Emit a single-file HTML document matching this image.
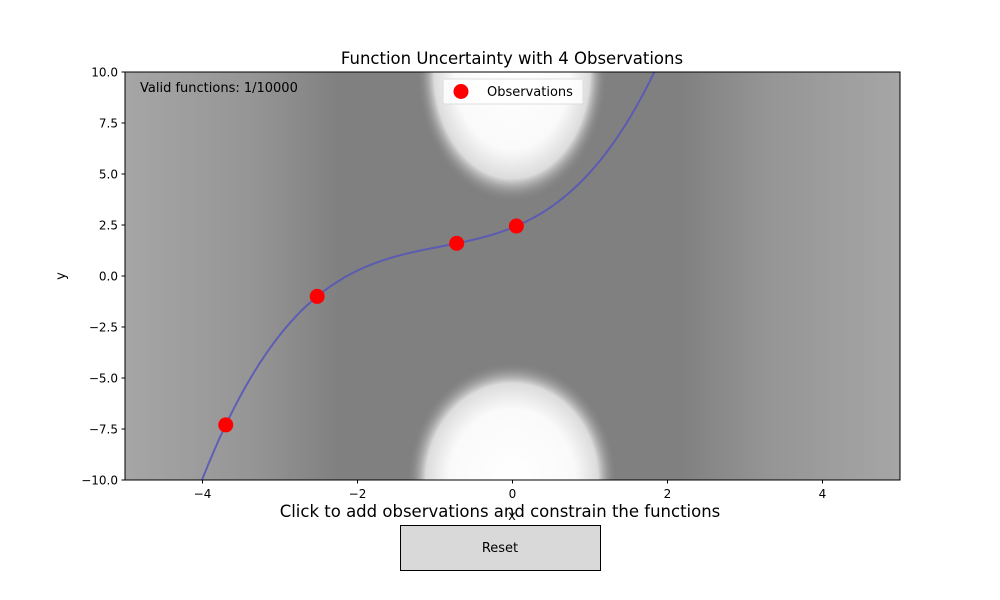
<!DOCTYPE html>
<html><head><meta charset="utf-8"><style>
html,body{margin:0;padding:0;background:#fff;width:1000px;height:600px;overflow:hidden;font-family:"Liberation Sans","DejaVu Sans",sans-serif}
svg{display:block}
svg text{font-family:"DejaVu Sans","Liberation Sans",sans-serif}
</style></head><body>
<svg id="chart" width="1000" height="600" viewBox="0 0 1000 600">
<defs>
<clipPath id="clip"><rect x="125" y="72" width="775" height="408"/></clipPath>
<linearGradient id="lg" x1="125" x2="340" y1="0" y2="0" gradientUnits="userSpaceOnUse"><stop offset="0" stop-color="#a6a6a6"/><stop offset="0.6" stop-color="#959595"/><stop offset="1" stop-color="#808080"/></linearGradient>
<linearGradient id="rg" x1="680" x2="900" y1="0" y2="0" gradientUnits="userSpaceOnUse"><stop offset="0" stop-color="#808080"/><stop offset="0.4" stop-color="#959595"/><stop offset="1" stop-color="#a6a6a6"/></linearGradient>
<radialGradient id="blob"><stop offset="0" stop-color="#fff"/><stop offset="0.6" stop-color="#fafafa"/><stop offset="0.82" stop-color="#dcdcdc"/><stop offset="1" stop-color="#808080" stop-opacity="0"/></radialGradient>
</defs>
<text x="512" y="64" text-anchor="middle" font-size="16.5">Function Uncertainty with 4 Observations</text>
<g clip-path="url(#clip)">
<rect x="125" y="72" width="775" height="408" fill="#808080"/>
<rect x="125" y="72" width="215" height="408" fill="url(#lg)"/>
<rect x="680" y="72" width="220" height="408" fill="url(#rg)"/>
<ellipse cx="512" cy="72" rx="95" ry="130" fill="url(#blob)"/>
<ellipse cx="512" cy="480" rx="105" ry="118" fill="url(#blob)"/>
<g id="marks"></g>
</g>
<rect x="125" y="72" width="775" height="408" fill="none" stroke="#000" stroke-width="1"/>
<g id="axes"></g>
<text x="140" y="92" font-size="13">Valid functions: 1/10000</text>
<g>
<rect x="443" y="79" width="140" height="25" fill="#fff" fill-opacity="0.8" stroke="#ddd" rx="2"/>
<circle cx="461" cy="91.5" r="7.5" fill="red"/>
<text x="487" y="96" font-size="13">Observations</text>
</g>
<text x="512" y="520" font-size="13" text-anchor="middle">x</text>
<text x="65" y="276" font-size="13" text-anchor="middle" transform="rotate(-90 65 276)">y</text>
<text x="500" y="517" font-size="16.5" text-anchor="middle">Click to add observations and constrain the functions</text>
<g>
<rect x="400.5" y="525.5" width="200" height="45" fill="#d9d9d9" stroke="#000"/>
<text x="500" y="552" font-size="13" text-anchor="middle">Reset</text>
</g>
</svg>
<script>
const obsX=[-3.7,-2.52,-0.72,0.05];
const obsY=[-7.3,-1.0,1.6,2.45];
const xTicks=[-4,-2,0,2,4];
const yTicks=[-10,-7.5,-5,-2.5,0,2.5,5,7.5,10];
const yTickLabels=["\u221210.0","\u22127.5","\u22125.0","\u22122.5","0.0","2.5","5.0","7.5","10.0"];
const xTickLabels=["\u22124","\u22122","0","2","4"];
const NS='http://www.w3.org/2000/svg';
const sx=v=>125+(v+5)/10*775;
const sy=v=>480-(v+10)/20*408;
function mk(t,a,p){const e=document.createElementNS(NS,t);for(const k in a)e.setAttribute(k,a[k]);p.appendChild(e);return e;}
function lag(x){let s=0;for(let i=0;i<obsX.length;i++){let t=obsY[i];for(let j=0;j<obsX.length;j++)if(j!==i)t*=(x-obsX[j])/(obsX[i]-obsX[j]);s+=t;}return s;}
const marks=document.getElementById('marks');
let d='';for(let k=0;k<=400;k++){const x=-5+k*10/400;const y=Math.max(-10.5,Math.min(10.5,lag(x)));d+=(k?'L':'M')+sx(x).toFixed(1)+','+sy(y).toFixed(1);}
const ln=mk('path',{d:d,fill:'none',stroke:'#5555bb','stroke-opacity':0.85,'stroke-width':2},marks);


obsX.forEach((x,i)=>{const c=mk('circle',{cx:sx(x),cy:sy(obsY[i]),r:7.5,fill:'red'},marks);

});
const ax=document.getElementById('axes');
xTicks.forEach((v,i)=>{mk('line',{x1:sx(v),x2:sx(v),y1:480,y2:483.5,stroke:'#000'},ax);
const t=mk('text',{x:sx(v),y:498,'font-size':12,'text-anchor':'middle'},ax);t.textContent=xTickLabels[i];

});
yTicks.forEach((v,i)=>{mk('line',{x1:121.5,x2:125,y1:sy(v),y2:sy(v),stroke:'#000'},ax);
const t=mk('text',{x:118,y:sy(v)+4.5,'font-size':12,'text-anchor':'end'},ax);t.textContent=yTickLabels[i];

});
</script>
</body></html>
